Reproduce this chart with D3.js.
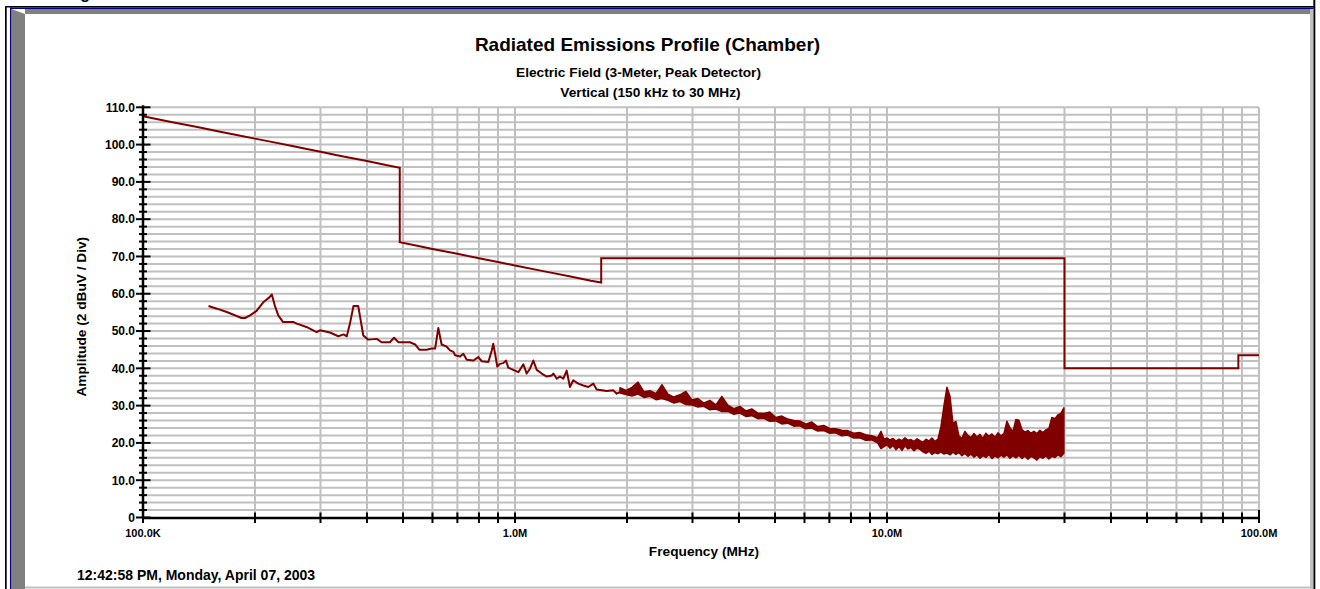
<!DOCTYPE html>
<html>
<head>
<meta charset="utf-8">
<script src="https://cdn.jsdelivr.net/npm/d3@7"></script>
<style>
  body { margin: 0; background: #fff; }
  svg { display: block; font-family: "Liberation Sans", Arial, sans-serif; font-weight: bold; }
</style>
</head>
<body>
<svg id="chart" width="1320" height="589"></svg>
<script>
// limit line (MHz, dBuV)
const limitFreq = [0.1, 0.12, 0.14, 0.16, 0.18, 0.2, 0.22, 0.25, 0.28, 0.3, 0.33, 0.36, 0.4, 0.45, 0.49,
  0.49, 0.55, 0.6, 0.7, 0.8, 0.9, 1.0, 1.2, 1.4, 1.6, 1.705, 1.705, 30, 30, 88, 88, 100];
const limitLevel = [107.6, 106.0, 104.7, 103.5, 102.5, 101.6, 100.8, 99.7, 98.7, 98.1, 97.2, 96.5, 95.6, 94.5, 93.8,
  73.8, 72.8, 72.0, 70.7, 69.5, 68.5, 67.6, 66.0, 64.7, 63.5, 63.0, 69.5, 69.5, 40.0, 40.0, 43.5, 43.5];

// measured trace, low band (MHz, dBuV)
const traceFreq = [0.150, 0.158, 0.168, 0.184, 0.188, 0.194, 0.202, 0.211, 0.219, 0.222, 0.226, 0.231, 0.238,
  0.254, 0.259, 0.275, 0.293, 0.299, 0.318, 0.335, 0.346, 0.353, 0.360, 0.368, 0.379, 0.391, 0.403, 0.425,
  0.438, 0.461, 0.473, 0.486, 0.522, 0.539, 0.553, 0.579, 0.597, 0.610, 0.622, 0.635, 0.655, 0.669, 0.683,
  0.690, 0.712, 0.726, 0.742, 0.773, 0.797, 0.814, 0.848, 0.866, 0.874, 0.884, 0.896, 0.911, 0.930, 0.946,
  0.959, 0.989, 1.021, 1.031, 1.053, 1.075, 1.097, 1.120, 1.144, 1.180, 1.217, 1.256, 1.268, 1.295, 1.321,
  1.348, 1.377, 1.405, 1.434, 1.480, 1.526, 1.574, 1.624, 1.658, 1.711, 1.764, 1.838, 1.877, 1.915];
const traceLevel = [56.7, 56.0, 55.1, 53.5, 53.5, 54.2, 55.4, 57.8, 59.1, 59.8, 56.9, 54.2, 52.4,
  52.4, 52.0, 51.1, 49.7, 50.2, 49.6, 48.6, 49.1, 48.6, 52.0, 56.7, 56.7, 48.8, 47.7, 47.9,
  47.0, 47.0, 48.2, 47.0, 47.0, 46.4, 45.0, 45.0, 45.3, 45.3, 50.8, 46.4, 45.8, 44.8, 44.4,
  43.5, 43.2, 43.9, 42.3, 42.1, 43.0, 41.9, 41.7, 44.8, 46.6, 43.9, 40.5, 41.2, 41.4, 42.1,
  40.2, 39.6, 39.0, 39.6, 41.1, 38.6, 39.9, 42.1, 39.6, 38.6, 37.8, 38.1, 38.6, 37.2, 37.8,
  37.2, 39.4, 35.0, 36.8, 35.9, 35.4, 35.0, 35.9, 34.3, 34.1, 33.9, 34.1, 33.2, 33.6];

// peak-detector sweep above 1.9 MHz: max / min per bin
const sweepFreq = [1.915, 1.988, 2.063, 2.141, 2.222, 2.306, 2.393, 2.483, 2.577, 2.674, 2.775, 2.880, 2.989,
  3.102, 3.219, 3.341, 3.467, 3.598, 3.734, 3.875, 4.022, 4.174, 4.331, 4.495, 4.665, 4.841, 5.024, 5.214,
  5.411, 5.615, 5.828, 6.048, 6.276, 6.513, 6.760, 7.015, 7.280, 7.555, 7.841, 8.137, 8.445, 8.764, 9.095,
  9.439, 9.635, 9.816, 10.00, 10.19, 10.38, 10.57, 10.77, 10.97, 11.18, 11.39, 11.60, 11.82, 12.04, 12.26,
  12.49, 12.73, 12.97, 13.21, 13.46, 13.71, 13.97, 14.23, 14.49, 14.77, 15.04, 15.32, 15.61, 15.90, 16.20,
  16.50, 16.81, 17.13, 17.45, 17.78, 18.11, 18.45, 18.80, 19.15, 19.51, 19.87, 20.25, 20.62, 21.01, 21.40,
  21.80, 22.21, 22.63, 23.05, 23.48, 23.92, 24.37, 24.83, 25.29, 25.77, 26.25, 26.74, 27.24, 27.75, 28.27,
  28.80, 29.34, 29.89];
const sweepHigh = [34.8, 34.1, 34.9, 36.3, 33.7, 34.0, 33.2, 35.6, 33.1, 32.3, 32.9, 33.8, 31.5,
  31.9, 30.7, 31.4, 30.2, 32.5, 30.1, 29.2, 29.8, 28.6, 29.1, 28.0, 27.9, 28.3, 26.8, 27.2,
  26.4, 26.0, 25.9, 25.0, 25.6, 24.4, 24.7, 23.9, 23.8, 23.4, 23.3, 22.6, 22.8, 22.2, 21.9,
  21.4, 23.1, 21.0, 21.3, 20.8, 21.2, 20.5, 21.0, 20.6, 21.4, 20.7, 20.9, 20.4, 21.1, 20.6,
  20.2, 21.0, 20.5, 21.3, 20.4, 21.0, 24.5, 30.0, 34.9, 32.5, 25.2, 25.8, 21.8, 21.2, 23.1,
  22.0, 21.4, 22.5, 21.6, 22.3, 21.2, 22.6, 21.8, 22.4, 21.5, 22.7, 21.9, 22.5, 25.8, 24.1,
  23.0, 26.3, 26.1, 23.6, 22.9, 23.3, 22.6, 23.1, 22.5, 23.4, 22.8, 23.5, 23.9, 26.8, 26.5,
  27.5, 27.9, 29.4];
const sweepLow = [33.4, 33.0, 32.6, 33.1, 32.2, 32.5, 31.6, 31.9, 31.4, 30.7, 31.1, 30.3, 30.2,
  29.6, 29.8, 28.9, 29.1, 28.4, 28.5, 27.7, 28.0, 27.1, 27.3, 26.5, 26.6, 25.8, 25.9, 25.1,
  25.3, 24.5, 24.6, 23.8, 24.0, 23.2, 23.3, 22.6, 22.7, 21.9, 22.1, 21.3, 21.4, 20.7, 20.8,
  20.0, 18.5, 19.0, 19.5, 18.6, 19.3, 18.2, 19.0, 18.0, 19.2, 18.4, 18.8, 17.9, 18.6, 18.3,
  17.6, 17.2, 17.8, 16.9, 17.4, 17.1, 17.6, 17.0, 17.3, 16.8, 17.5, 16.9, 17.4, 16.6, 17.2,
  16.4, 17.0, 16.2, 16.8, 15.9, 16.6, 16.1, 16.9, 15.8, 16.5, 16.0, 16.7, 16.2, 16.8, 15.9,
  16.6, 16.0, 16.7, 15.8, 16.5, 15.6, 16.4, 16.0, 15.4, 16.3, 15.9, 16.5, 15.7, 16.4, 16.1,
  16.8, 16.3, 17.2];

const yTickValues = [0, 10, 20, 30, 40, 50, 60, 70, 80, 90, 100, 110];
const yTickLabels = ["0", "10.0", "20.0", "30.0", "40.0", "50.0", "60.0", "70.0", "80.0", "90.0", "100.0", "110.0"];
const xTickValues = [0.1, 1, 10, 100];
const xTickLabels = ["100.0K", "1.0M", "10.0M", "100.0M"];

const svg = d3.select("#chart");
const dark = "#800000";

// ---- panel frame ----
const frame = svg.append("g");
frame.append("text").attr("x", 66).attr("y", -0.7).style("font-size", "16px").text("Figure");
frame.append("rect").attr("x", 5).attr("y", 6).attr("width", 1310).attr("height", 1.5).attr("fill", "#000");
frame.append("rect").attr("x", 5).attr("y", 6).attr("width", 1.7).attr("height", 583).attr("fill", "#000");
frame.append("rect").attr("x", 1313.3).attr("y", 0).attr("width", 2).attr("height", 589).attr("fill", "#000");
frame.append("rect").attr("x", 10).attr("y", 7.5).attr("width", 1303).attr("height", 1.5).attr("fill", "#000080");
frame.append("rect").attr("x", 10).attr("y", 7.5).attr("width", 1.6).attr("height", 582).attr("fill", "#000080");
frame.append("polygon").attr("points", "25,9 1311,9 1311,14 25,14").attr("fill", "#808080");
frame.append("polygon").attr("points", "11.6,9 25,14 25,589 11.6,589").attr("fill", "#808080");
frame.append("rect").attr("x", 1310).attr("y", 9).attr("width", 3.3).attr("height", 580).attr("fill", "#c0c0c0");
frame.append("rect").attr("x", 25).attr("y", 586.5).attr("width", 1285).attr("height", 2).attr("fill", "#c0c0c0");

// ---- scales ----
const x = d3.scaleLog().domain([0.1, 100]).range([143, 1259]);
const y = d3.scaleLinear().domain([0, 110]).range([517.5, 107.3]);

// ---- grid ----
const grid = svg.append("g").attr("stroke", "#c0c0c0").attr("stroke-width", 2);
grid.selectAll("line.h").data(d3.range(2, 111, 2)).join("line").attr("class", "h")
  .attr("x1", x(0.1)).attr("x2", x(100))
  .attr("y1", d => y(d)).attr("y2", d => y(d));
grid.selectAll("line.v").data(x.ticks()).join("line").attr("class", "v")
  .attr("x1", d => x(d)).attr("x2", d => x(d))
  .attr("y1", y(110)).attr("y2", y(0));

// ---- data ----
const line = d3.line().x(d => x(d[0])).y(d => y(d[1]));

svg.append("path")
  .datum(d3.zip(limitFreq, limitLevel))
  .attr("d", line)
  .attr("fill", "none").attr("stroke", dark).attr("stroke-width", 2);

svg.append("path")
  .datum(d3.zip(traceFreq, traceLevel))
  .attr("d", line)
  .attr("fill", "none").attr("stroke", dark).attr("stroke-width", 2)
  .attr("stroke-linejoin", "round");

// dense sweep drawn as a filled max/min band
const sweep = sweepFreq.map((f, i) => ({ f: f, hi: sweepHigh[i], lo: sweepLow[i] }));
const band = d3.area()
  .x(d => x(d.f)).y0(d => y(d.lo)).y1(d => y(d.hi));
svg.append("path")
  .datum(sweep)
  .attr("d", band)
  .attr("fill", dark).attr("stroke", dark).attr("stroke-width", 1.5)
  .attr("stroke-linejoin", "round");

// ---- axes ----
const axes = svg.append("g").attr("stroke", "#000");
axes.append("line").attr("x1", 143).attr("x2", 143).attr("y1", y(110) - 2).attr("y2", y(0) + 1)
  .attr("stroke-width", 2.5);
axes.append("line").attr("x1", x(0.1)).attr("x2", x(100)).attr("y1", y(0) + 0.5).attr("y2", y(0) + 0.5)
  .attr("stroke-width", 2.5);
axes.selectAll("line.ytick").data(d3.range(0, 111, 2)).join("line").attr("class", "ytick")
  .attr("x1", d => d % 10 === 0 ? 136 : 139)
  .attr("x2", d => d % 10 === 0 ? 150.5 : 147)
  .attr("y1", d => y(d)).attr("y2", d => y(d))
  .attr("stroke-width", 2);
axes.selectAll("line.xtick").data(x.ticks()).join("line").attr("class", "xtick")
  .attr("x1", d => x(d)).attr("x2", d => x(d))
  .attr("y1", d => d === 100 ? 510 : 512.5).attr("y2", 523)
  .attr("stroke-width", 2);

svg.append("g").selectAll("text").data(yTickValues).join("text")
  .attr("x", 135).attr("y", d => y(d)).attr("dy", "0.36em")
  .attr("text-anchor", "end").style("font-size", "12px")
  .text((d, i) => yTickLabels[i]);

svg.append("g").selectAll("text").data(xTickValues).join("text")
  .attr("x", d => x(d)).attr("y", 536.5)
  .attr("text-anchor", "middle").style("font-size", "11px")
  .text((d, i) => xTickLabels[i]);

// ---- titles ----
svg.append("text").attr("x", 647.5).attr("y", 50.5).attr("text-anchor", "middle")
  .style("font-size", "19px").text("Radiated Emissions Profile (Chamber)");
svg.append("text").attr("x", 638.5).attr("y", 76.5).attr("text-anchor", "middle")
  .style("font-size", "13.7px").text("Electric Field (3-Meter, Peak Detector)");
svg.append("text").attr("x", 650.5).attr("y", 96.7).attr("text-anchor", "middle")
  .style("font-size", "13.7px").text("Vertical (150 kHz to 30 MHz)");

svg.append("text").attr("transform", "translate(85.5,316.7) rotate(-90)").attr("text-anchor", "middle")
  .style("font-size", "13.7px").text("Amplitude (2 dBuV / Div)");
svg.append("text").attr("x", 704).attr("y", 556).attr("text-anchor", "middle")
  .style("font-size", "13.7px").text("Frequency (MHz)");

svg.append("text").attr("x", 77).attr("y", 580).style("font-size", "14px")
  .text("12:42:58 PM, Monday, April 07, 2003");
</script>
</body>
</html>
